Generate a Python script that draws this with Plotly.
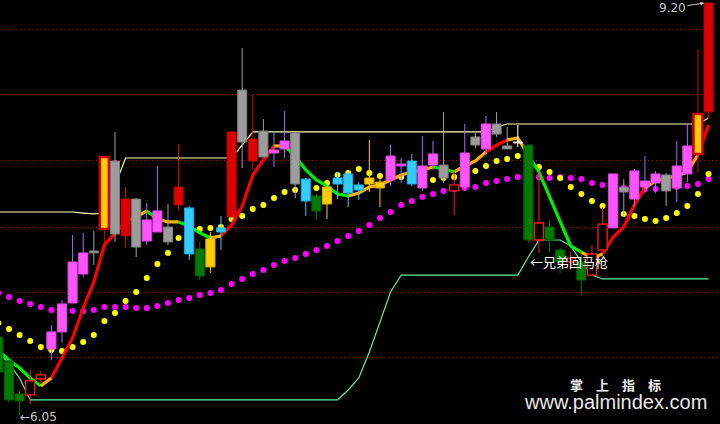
import plotly.graph_objects as go

# ---------------- data (prices) ----------------
styles = ['G', 'G', 'G', 'RH', 'RH', 'M', 'M', 'M', 'M', 'GR',
          'YR', 'GR', 'R', 'GR', 'M', 'M', 'GR', 'R', 'C', 'G',
          'Y', 'C', 'R', 'GR', 'R', 'GR', 'M', 'M', 'GR', 'C',
          'G', 'Y', 'C', 'C', 'C', 'Y', 'Y', 'M', 'M', 'C',
          'M', 'M', 'GR', 'RH', 'M', 'GR', 'M', 'GR', 'GR', 'W',
          'G', 'RH', 'G', 'G', 'RH', 'G', 'RH', 'RH', 'M', 'GR',
          'M', 'M', 'M', 'GR', 'M', 'M', 'YR', 'R']

opens = [6.646, 6.463, 6.211, 6.203, 6.325, 6.555, 6.685, 6.906, 7.128, 7.304,
         7.472, 7.992, 7.419, 7.701, 7.380, 7.449, 7.487, 7.656, 7.633, 7.319,
         7.182, 7.480, 7.564, 8.535, 7.992, 8.221, 8.053, 8.084, 8.206, 7.854,
         7.724, 7.663, 7.862, 7.893, 7.809, 7.816, 7.786, 7.847, 7.954, 7.992,
         7.786, 7.961, 7.961, 7.763, 7.793, 8.176, 8.084, 8.275, 8.107, 8.137,
         8.114, 7.388, 7.487, 7.312, 7.220, 7.220, 7.120, 7.312, 7.480, 7.793,
         7.701, 7.793, 7.824, 7.885, 7.786, 7.893, 8.046, 8.367]
closes = [6.379, 6.165, 6.157, 6.310, 6.356, 6.685, 6.899, 7.220, 7.289, 7.289,
          8.023, 7.434, 7.701, 7.334, 7.541, 7.610, 7.373, 7.793, 7.281, 7.113,
          7.396, 7.449, 8.214, 8.137, 8.160, 8.023, 8.076, 8.145, 7.816, 7.686,
          7.610, 7.793, 7.816, 7.747, 7.770, 7.862, 7.831, 8.030, 7.969, 7.816,
          7.954, 8.046, 7.862, 7.809, 8.053, 8.114, 8.275, 8.198, 8.084, 8.130,
          7.388, 7.518, 7.388, 7.220, 7.250, 7.082, 7.281, 7.510, 7.893, 7.755,
          7.916, 7.839, 7.893, 7.763, 7.954, 8.107, 8.351, 9.200]
highs = [6.646, 6.463, 6.241, 6.394, 6.386, 6.738, 6.929, 7.426, 7.442, 7.457,
         8.023, 8.214, 7.793, 7.709, 7.671, 7.954, 7.663, 8.122, 7.648, 7.373,
         7.449, 7.572, 8.214, 8.856, 8.497, 8.313, 8.206, 8.374, 8.214, 7.862,
         7.740, 7.831, 7.908, 7.908, 7.831, 8.153, 7.870, 8.114, 8.015, 8.046,
         8.183, 8.145, 8.367, 7.923, 8.275, 8.206, 8.336, 8.367, 8.252, 8.267,
         8.114, 7.908, 7.541, 7.327, 7.296, 7.273, 7.350, 7.640, 7.893, 7.854,
         7.931, 8.030, 7.916, 7.900, 8.145, 8.275, 8.848, 9.200]
lows = [6.379, 6.142, 6.050, 6.134, 6.295, 6.470, 6.600, 6.906, 7.105, 7.197,
        7.350, 7.373, 7.327, 7.258, 7.350, 7.449, 7.350, 7.610, 7.235, 7.082,
        7.136, 7.312, 7.564, 7.938, 7.923, 8.023, 7.946, 8.015, 7.709, 7.572,
        7.541, 7.549, 7.701, 7.640, 7.694, 7.755, 7.640, 7.801, 7.824, 7.801,
        7.763, 7.923, 7.824, 7.579, 7.763, 8.091, 8.038, 8.176, 8.084, 8.099,
        7.373, 7.289, 7.296, 7.136, 7.159, 6.967, 7.120, 7.312, 7.480, 7.564,
        7.640, 7.747, 7.747, 7.648, 7.678, 7.831, 7.900, 8.313]

# smooth trend line and its colour state per bar
trend = [6.547, 6.470, 6.409, 6.333, 6.272, 6.333, 6.486, 6.639, 6.868, 7.067,
         7.350, 7.434, 7.526, 7.564, 7.610, 7.549, 7.526, 7.526, 7.495, 7.442,
         7.403, 7.419, 7.503, 7.648, 7.885, 8.000, 8.107, 8.107, 8.030, 7.923,
         7.847, 7.801, 7.740, 7.724, 7.747, 7.793, 7.809, 7.847, 7.885, 7.908,
         7.923, 7.946, 7.931, 7.908, 7.954, 7.992, 8.061, 8.114, 8.153, 8.168,
         8.038, 7.908, 7.717, 7.526, 7.342, 7.296, 7.250, 7.281, 7.411, 7.487,
         7.656, 7.786, 7.839, 7.862, 7.877, 7.908, 8.038, 8.267]
trend_state = ['G', 'G', 'G', 'G', 'G', 'O', 'R', 'R', 'R', 'R',
               'R', 'R', 'R', 'O', 'O', 'G', 'O', 'O', 'G', 'G',
               'G', 'O', 'R', 'R', 'R', 'R', 'R', 'O', 'G', 'G',
               'G', 'G', 'G', 'G', 'O', 'O', 'O', 'O', 'O', 'O',
               'O', 'O', 'G', 'G', 'O', 'O', 'O', 'R', 'R', 'O',
               'O', 'G', 'G', 'G', 'G', 'G', 'O', 'O', 'R', 'R',
               'R', 'R', 'O', 'O', 'O', 'O', 'O', 'R']

yellow_dots = [6.753, 6.707, 6.662, 6.616, 6.570, 6.547, 6.539, 6.570, 6.608, 6.662,
               6.769, 6.830, 6.922, 6.990, 7.097, 7.204, 7.289, 7.403, 7.449, 7.472,
               7.480, 7.487, 7.549, 7.572, 7.625, 7.656, 7.709, 7.755, 7.770, 7.778,
               7.786, 7.824, 7.885, 7.900, 7.931, 7.900, 7.877, 7.870, 7.870, 7.862,
               7.854, 7.847, 7.862, 7.870, 7.885, 7.916, 7.954, 7.992, 8.007, 8.030,
               7.984, 7.946, 7.908, 7.862, 7.793, 7.740, 7.686, 7.648, 7.617, 7.587,
               7.572, 7.549, 7.533, 7.556, 7.594, 7.648, 7.740, 7.893]
magenta_dots = [6.983, 6.952, 6.922, 6.899, 6.876, 6.853, 6.845, 6.845, 6.845, 6.853,
                6.876, 6.876, 6.876, 6.868, 6.868, 6.883, 6.906, 6.929, 6.945, 6.967,
                6.983, 7.006, 7.052, 7.090, 7.128, 7.159, 7.197, 7.227, 7.250, 7.281,
                7.312, 7.342, 7.380, 7.419, 7.457, 7.503, 7.556, 7.602, 7.656, 7.686,
                7.717, 7.740, 7.763, 7.778, 7.786, 7.793, 7.824, 7.839, 7.854, 7.870,
                7.870, 7.870, 7.862, 7.870, 7.862, 7.854, 7.824, 7.809, 7.801, 7.786,
                7.778, 7.778, 7.778, 7.786, 7.793, 7.801, 7.816, 7.854]

upper_line = [7.602, 7.602, 7.602, 7.602, 7.602, 7.602, 7.602, 7.602, 7.594, 7.587,
              7.594, 7.801, 8.015, 8.015, 8.015, 8.015, 8.015, 8.015, 8.015, 8.015,
              8.015, 8.015, 8.015, 8.114, 8.214, 8.214, 8.214, 8.214, 8.214, 8.214,
              8.214, 8.214, 8.214, 8.214, 8.214, 8.214, 8.214, 8.214, 8.214, 8.214,
              8.214, 8.214, 8.214, 8.214, 8.214, 8.214, 8.214, 8.252, 8.275, 8.275,
              8.275, 8.275, 8.275, 8.275, 8.275, 8.275, 8.275, 8.275, 8.275, 8.275,
              8.275, 8.275, 8.275, 8.275, 8.275, 8.275, 8.275, 8.321]
lower_line = [6.532, 6.440, 6.333, 6.165, 6.165, 6.165, 6.165, 6.165, 6.165, 6.165,
              6.165, 6.165, 6.165, 6.165, 6.165, 6.165, 6.165, 6.165, 6.165, 6.165,
              6.165, 6.165, 6.165, 6.165, 6.165, 6.165, 6.165, 6.165, 6.165, 6.165,
              6.165, 6.165, 6.165, 6.241, 6.333, 6.532, 6.761, 6.990, 7.120, 7.120,
              7.120, 7.120, 7.120, 7.120, 7.120, 7.120, 7.120, 7.120, 7.120, 7.120,
              7.258, 7.388, 7.388, 7.388, 7.342, 7.220, 7.120, 7.090, 7.090, 7.090,
              7.090, 7.090, 7.090, 7.090, 7.090, 7.090, 7.090, 7.090]

grid_levels = [6.486, 6.983, 7.487, 7.992, 8.497, 9.001]
high_label = "9.20"
low_label = "6.05"
signal_label = "←兄弟回马枪"
signal_bar = 50
signal_price = 7.22

# ---------------- styles ----------------
body_fill = {'G': '#007A00', 'R': '#DD0000', 'RH': '#000000', 'M': '#FF55FF',
             'GR': '#9C9C9C', 'C': '#33CCFF', 'Y': '#FFCC00', 'YR': '#FFCC00',
             'W': '#FFFFFF'}
body_edge = {'G': '#005E00', 'R': '#B80000', 'RH': '#FF1A1A', 'M': '#E545E5',
             'GR': '#7C7C7C', 'C': '#1FA8E6', 'Y': '#E0B000', 'YR': '#CC0000',
             'W': '#FFFFFF'}
edge_w = {'G': 1, 'R': 1, 'RH': 1.3, 'M': 1, 'GR': 1, 'C': 1, 'Y': 1, 'YR': 2.6, 'W': 1}
wick_col = {'G': '#007A00', 'R': '#DD0000', 'RH': '#FF1A1A', 'M': '#A56BFF',
            'GR': '#A0A0A0', 'C': '#33CCFF', 'Y': '#FFCC00', 'YR': '#DD0000',
            'W': '#FFFFFF'}
trend_col = {'R': '#FF0000', 'G': '#00EE00', 'O': '#FFB000'}

n = len(opens)
idx = list(range(n))
XR = [0.151, 68.08]
YR = [5.981, 9.223]

fig = go.Figure()

# upper / lower step lines
fig.add_trace(go.Scatter(x=idx, y=upper_line, mode='lines',
                         line=dict(color='#FFFFB8', width=1.2), hoverinfo='skip'))
fig.add_trace(go.Scatter(x=idx, y=lower_line, mode='lines',
                         line=dict(color='#5CEFA8', width=1.2), hoverinfo='skip'))

# dotted lines
fig.add_trace(go.Scatter(x=idx, y=magenta_dots, mode='markers',
                         marker=dict(color='#FF00FF', size=6, symbol='circle'),
                         hoverinfo='skip'))
fig.add_trace(go.Scatter(x=idx, y=yellow_dots, mode='markers',
                         marker=dict(color='#FFFF00', size=6, symbol='circle'),
                         hoverinfo='skip'))

# coloured trend line, one trace per colour, built from runs
for code, col in trend_col.items():
    xs, ys = [], []
    prev_in = False
    for i in range(1, n):
        if trend_state[i] == code:
            if not prev_in:
                xs.append(i - 1)
                ys.append(trend[i - 1])
            xs.append(i)
            ys.append(trend[i])
            prev_in = True
        else:
            if prev_in:
                xs.append(None)
                ys.append(None)
            prev_in = False
    fig.add_trace(go.Scatter(x=xs, y=ys, mode='lines',
                             line=dict(color=col, width=3.2), hoverinfo='skip'))

# candles on an overlaid subplot so they sit above the indicator lines
for code in body_fill:
    xs, ys = [], []
    for i in idx:
        if styles[i] != code:
            continue
        top = max(opens[i], closes[i])
        bot = min(opens[i], closes[i])
        if highs[i] > top:
            xs += [i, i, None]
            ys += [highs[i], top, None]
        if lows[i] < bot:
            xs += [i, i, None]
            ys += [bot, lows[i], None]
    if xs:
        fig.add_trace(go.Scatter(x=xs, y=ys, mode='lines', xaxis='x2', yaxis='y2',
                                 line=dict(color=wick_col[code], width=1),
                                 hoverinfo='skip'))

bases = [min(o, c) for o, c in zip(opens, closes)]
heights = [max(abs(o - c), 0.004) for o, c in zip(opens, closes)]
fig.add_trace(go.Bar(
    x=idx, y=heights, base=bases, width=0.86, xaxis='x2', yaxis='y2',
    marker=dict(color=[body_fill[s] for s in styles],
                line=dict(color=[body_edge[s] for s in styles],
                          width=[edge_w[s] for s in styles])),
    hoverinfo='skip'))

# ---------------- annotations ----------------
lab_font = dict(family='DejaVu Sans', size=12, color='#C8C8C8')
fig.add_annotation(x=n - 1 - 0.4, y=highs[-1], xref='x', yref='y',
                   text=high_label, showarrow=True, ax=-32, ay=5,
                   arrowhead=2, arrowsize=0.8, arrowwidth=1, arrowcolor='#C8C8C8',
                   font=lab_font)
low_i = lows.index(min(lows))
fig.add_annotation(x=low_i, y=lows[low_i], xref='x', yref='y',
                   text='←' + low_label, showarrow=False, xanchor='left',
                   yanchor='middle', yshift=-2, xshift=-2, font=lab_font)
fig.add_annotation(x=signal_bar, y=signal_price, xref='x', yref='y',
                   text=signal_label, showarrow=False, xanchor='left',
                   yanchor='middle',
                   font=dict(family='Noto Sans CJK SC', size=13, color='#FFFFFF'))
fig.add_annotation(x=615 / 720, y=1 - 384 / 424, xref='paper', yref='paper',
                   xanchor='center', yanchor='middle', borderpad=0,
                   text='<b>掌\u3000上\u3000指\u3000标</b>', showarrow=False,
                   font=dict(family='Noto Sans CJK SC', size=13, color='#F0F0F0'))
fig.add_annotation(x=615 / 720, y=1 - 402 / 424, xref='paper', yref='paper',
                   xanchor='center', yanchor='middle', borderpad=0,
                   text='www.palmindex.com', showarrow=False,
                   font=dict(family='Liberation Sans', size=20, color='#E8E8E8'))

fig.update_layout(
    width=720, height=424, margin=dict(l=0, r=0, t=0, b=0),
    paper_bgcolor='#000000', plot_bgcolor='#000000',
    showlegend=False, barmode='overlay',
    xaxis=dict(range=XR, visible=True, showticklabels=False, showgrid=False,
               zeroline=False, showline=False, ticks=''),
    yaxis=dict(range=YR, tickvals=grid_levels, showticklabels=False,
               showgrid=True, gridcolor='#B00000', griddash='1px,3px',
               gridwidth=1, zeroline=False, showline=False, ticks=''),
    xaxis2=dict(range=XR, overlaying='x', anchor='y2', visible=False),
    yaxis2=dict(range=YR, overlaying='y', anchor='x2', visible=False),
)

fig.write_html('out.html', config={'displayModeBar': False})

# remove the default page margin so the figure fills the window
with open('out.html', 'r', encoding='utf-8') as f:
    page = f.read()
page = page.replace('<head>', '<head><style>html,body{margin:0;padding:0;'
                    'background:#000;overflow:hidden;}</style>', 1)
with open('out.html', 'w', encoding='utf-8') as f:
    f.write(page)
